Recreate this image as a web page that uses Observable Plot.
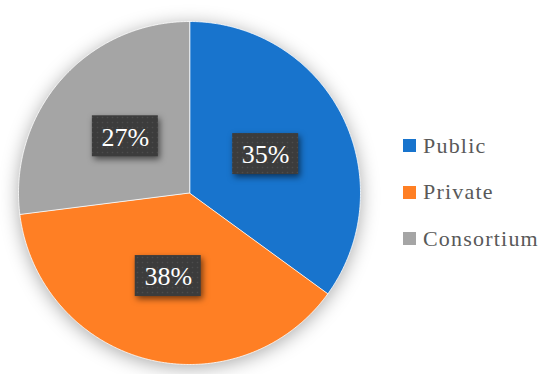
<!DOCTYPE html>
<html><head><meta charset="utf-8">
<script src="https://cdn.jsdelivr.net/npm/d3@7"></script>
<script src="https://cdn.jsdelivr.net/npm/@observablehq/plot@0.6"></script>
<style>
html,body{margin:0;padding:0;background:#fff;}
#wrap{position:relative;width:550px;height:374px;overflow:hidden;}
#wrap svg{position:absolute;left:0;top:0;}
#wrap g[aria-label="line"]{filter:drop-shadow(0px 3px 9px rgba(0,0,0,0.33));}
#wrap g[aria-label="rect"] rect{fill:url(#dots);filter:drop-shadow(2px 3px 3px rgba(0,0,0,0.55));}
#wrap g[aria-label="text"] text{font-family:"Liberation Serif",serif;}
.lg{position:absolute;left:403px;font-family:"Liberation Serif",serif;font-size:22px;letter-spacing:1.2px;color:#595959;line-height:22px;white-space:nowrap;}
.lg .sw{position:absolute;left:0;width:13px;height:13px;}
.lg .tx{position:absolute;left:20px;}
</style></head><body><div id="wrap"></div>
<script>
const categories = ["Public", "Private", "Consortium"];
const values = [35, 38, 27];
const labels = ["35%", "38%", "27%"];
const colors = ["#1874CD", "#FF7F24", "#A5A5A5"];

const total = d3.sum(values);
const pts = [];
const lab = [];
let acc = 0;
categories.forEach((c, i) => {
  const a0 = acc / total * 360;
  acc += values[i];
  const a1 = acc / total * 360;
  pts.push({cat: c, x: 0, y: 0});
  const n = Math.max(2, Math.ceil((a1 - a0) / 0.5));
  for (let k = 0; k <= n; k++) {
    const a = (a0 + (a1 - a0) * k / n) * Math.PI / 180;
    pts.push({cat: c, x: Math.sin(a), y: Math.cos(a)});
  }
  const am = (a0 + a1) / 2 * Math.PI / 180;
  lab.push({cat: c, label: labels[i], x: 0.5 * Math.sin(am), y: 0.5 * Math.cos(am)});
});

const plot = Plot.plot({
  width: 550,
  height: 374,
  x: {domain: [-1, 1], range: [18, 360], axis: null},
  y: {domain: [-1, 1], range: [364, 21], axis: null},
  color: {domain: categories, range: colors},
  marks: [
    Plot.line(pts, {x: "x", y: "y", z: "cat", fill: "cat", stroke: "white", strokeWidth: 0.8, curve: "linear-closed"}),
    Plot.rect(lab, {x1: "x", x2: "x", y1: "y", y2: "y", insetLeft: -33, insetRight: -33, insetTop: -20.5, insetBottom: -20.5, fill: "#3d3d3d"}),
    Plot.text(lab, {x: "x", y: "y", dy: 1, text: "label", fill: "white", fontSize: 26, fontFamily: "Liberation Serif", textAnchor: "middle", lineAnchor: "middle"})
  ]
});

const svg = d3.select(plot);
const defs = svg.insert("defs", ":first-child");
const pat = defs.append("pattern").attr("id", "dots").attr("patternUnits", "userSpaceOnUse").attr("width", 5).attr("height", 5);
pat.append("rect").attr("width", 5).attr("height", 5).attr("fill", "#3c3c3c");
pat.append("circle").attr("cx", 2.5).attr("cy", 2.5).attr("r", 0.8).attr("fill", "#4c4c4c");

const wrap = document.getElementById("wrap");
wrap.appendChild(plot);

categories.forEach((c, i) => {
  const baseline = 153 + 46.5 * i;
  const row = document.createElement("div");
  row.className = "lg";
  row.style.top = (baseline - 18.4) + "px";
  const sw = document.createElement("span");
  sw.className = "sw";
  sw.style.background = colors[i];
  sw.style.top = (18.4 - 13.5) + "px";
  const tx = document.createElement("span");
  tx.className = "tx";
  tx.textContent = c;
  row.appendChild(sw);
  row.appendChild(tx);
  wrap.appendChild(row);
});
</script>
</body></html>
